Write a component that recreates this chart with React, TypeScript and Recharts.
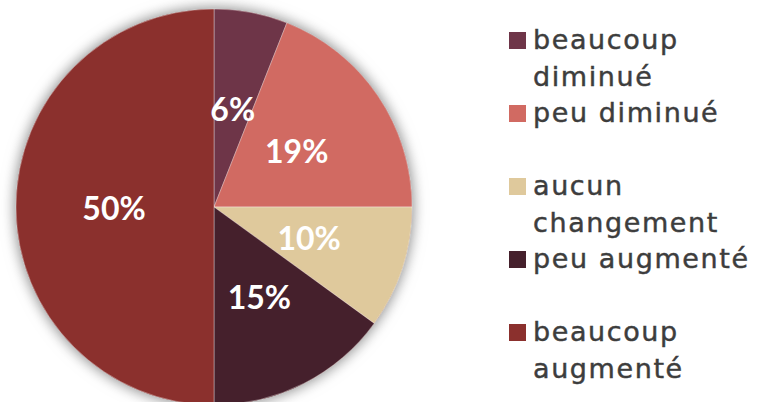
import { PieChart, Pie, Cell, Legend } from "recharts"

const categories = [
    "beaucoup diminué",
    "peu diminué",
    "aucun changement",
    "peu augmenté",
    "beaucoup augmenté"
]
const shares = [6, 19, 10, 15, 50]
const colors = ["#6e3548", "#d16a62", "#dfc99c", "#45202c", "#8b302d"]

const data = categories.map((name, i) => ({ name, value: shares[i] }))
const backdrop = [{ name: "fond", value: 1 }]

const RADIAN = Math.PI / 180

const renderLabel = (props: any) => {
    const { cx, cy, midAngle, outerRadius, value } = props
    const r = outerRadius * 0.505
    const x = cx + r * Math.cos(-midAngle * RADIAN)
    const y = cy + r * Math.sin(-midAngle * RADIAN)
    return (
        <text
            x={x}
            y={y}
            fill="#ffffff"
            textAnchor="middle"
            dominantBaseline="central"
            style={{ fontFamily: "Lato", fontWeight: 700, fontSize: 32 }}
        >
            {`${value}%`}
        </text>
    )
}

const renderLegend = (props: any) => {
    const items = (props.payload || [])
        .filter((p: any) => p.type !== "none")
        .sort((a: any, b: any) => categories.indexOf(a.value) - categories.indexOf(b.value))
    return (
        <div
            style={{
                fontFamily: "'DejaVu Sans'",
                fontSize: 27,
                color: "#3d3d3d",
                letterSpacing: 1.6,
                WebkitTextStroke: "0.45px #3d3d3d"
            }}
        >
            {items.map((entry: any) => (
                <div key={entry.value} style={{ display: "flex", height: 73 }}>
                    <div
                        style={{
                            width: 17,
                            height: 17,
                            marginTop: 9.75,
                            marginRight: 7,
                            background: entry.color,
                            flexShrink: 0
                        }}
                    />
                    <div style={{ lineHeight: "36.5px", width: 234 }}>{entry.value}</div>
                </div>
            ))}
        </div>
    )
}

export default function App() {
    return (
        <div style={{ position: "absolute", left: 0, top: 0, background: "#fff" }}>
            <style>{`.pie-shadow { filter: drop-shadow(0 0 7px rgba(0,0,0,0.28)); }`}</style>
            <PieChart width={761} height={402} margin={{ top: 0, right: 0, bottom: 0, left: 0 }}>
                <Pie
                    className="pie-shadow"
                    data={backdrop}
                    dataKey="value"
                    cx={214}
                    cy={207}
                    outerRadius={198}
                    startAngle={90}
                    endAngle={-270}
                    fill="#8b302d"
                    stroke="none"
                    legendType="none"
                    isAnimationActive={false}
                />
                <Pie
                    data={data}
                    dataKey="value"
                    nameKey="name"
                    cx={214}
                    cy={207}
                    outerRadius={198}
                    startAngle={90}
                    endAngle={-270}
                    stroke="rgba(255,255,255,0.35)"
                    strokeWidth={1}
                    label={renderLabel}
                    labelLine={false}
                    legendType="square"
                    isAnimationActive={false}
                >
                    {data.map((d, i) => (
                        <Cell key={d.name} fill={colors[i]} />
                    ))}
                </Pie>
                <Legend
                    layout="vertical"
                    verticalAlign="top"
                    align="right"
                    content={renderLegend}
                    wrapperStyle={{ left: 509, top: 22, width: 252 }}
                />
            </PieChart>
        </div>
    )
}
